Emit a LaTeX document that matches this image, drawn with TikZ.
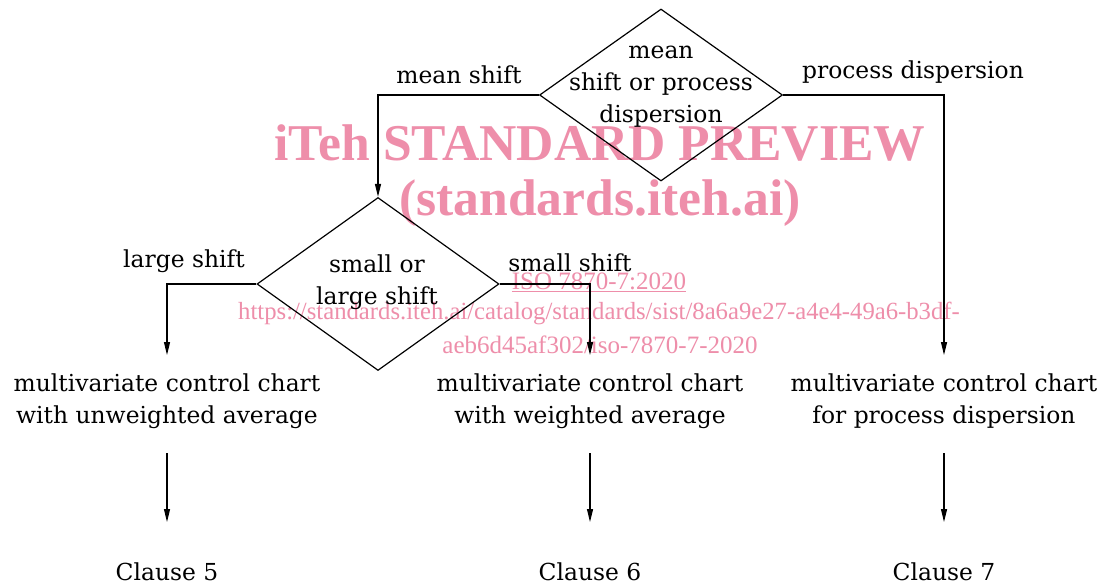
\documentclass[tikz,border=0pt]{standalone}
\usepackage{fontspec}
\setmainfont{DejaVu Serif}
\newfontfamily\wmfont{Liberation Serif}
\usetikzlibrary{shapes.geometric,arrows.meta}
\definecolor{wmpink}{RGB}{238,142,170}
\tikzset{
  flow/.style={line width=1.2pt},
  arr/.style={flow,-{Triangle[length=13pt,width=6pt]}},
  decision/.style={diamond,draw,line width=1.2pt,inner sep=0pt},
  txt/.style={align=center,inner sep=0pt,font=\fontsize{23.4}{32}\selectfont},
  wmbig/.style={text=wmpink,inner sep=0pt,font=\wmfont\bfseries\fontsize{51.6}{60}\selectfont},
  wmsmall/.style={text=wmpink,inner sep=0pt,font=\wmfont\fontsize{25}{32}\selectfont}
}
\begin{document}
\begin{tikzpicture}[x=1pt,y=-1pt]
\useasboundingbox (0,0) rectangle (1103,586);
\fill[white] (0,0) rectangle (1103,586);

% watermark lettering
\node[wmbig] (wm1) at (600,143) {iTeh STANDARD PREVIEW};
\node[wmbig] (wm2) at (600,203) {(standards.iteh.ai)};
\node[wmsmall] (wm3) at (599,282) {\underline{ISO 7870-7:2020}};
\node[wmsmall,font=\wmfont\fontsize{24.7}{32}\selectfont] (wm4) at (599,313) {https://standards.iteh.ai/catalog/standards/sist/8a6a9e27-a4e4-49a6-b3df-};
\node[wmsmall] (wm5) at (600,345) {aeb6d45af302/iso-7870-7-2020};

% decisions
\node[decision,minimum width=243pt,minimum height=172pt] (d1) at (661,95) {};
\node[txt] (d1t) at (661,87) {mean\\shift or process\\dispersion};
\node[decision,minimum width=242pt,minimum height=173pt] (d2) at (378,284) {};
\node[txt] (d2t) at (377,282) {small or\\large shift};

% chart types
\node[txt] (b1) at (167,401) {multivariate control chart\\with unweighted average};
\node[txt] (b2) at (590,401) {multivariate control chart\\with weighted average};
\node[txt] (b3) at (944,401) {multivariate control chart\\for process dispersion};

% clauses
\node[txt] (c5) at (167,572) {Clause 5};
\node[txt] (c6) at (590,572) {Clause 6};
\node[txt] (c7) at (944,572) {Clause 7};

% branch labels
\node[txt] (l1) at (459,75) {mean shift};
\node[txt] (l2) at (913,72) {process dispersion};
\node[txt] (l3) at (184,261) {large shift};
\node[txt] (l4) at (570,263) {small shift};

% connectors
\draw[arr] (d1.west) -| (d2.north);
\draw[arr,shorten >=46pt] (d1.east) -| (b3.center);
\draw[arr,shorten >=46pt] (d2.west) -| (b1.center);
\draw[arr,shorten >=46pt] (d2.east) -| (b2.center);
\draw[arr,shorten <=52pt,shorten >=50pt] (b1.center) -- (c5.center);
\draw[arr,shorten <=52pt,shorten >=50pt] (b2.center) -- (c6.center);
\draw[arr,shorten <=52pt,shorten >=50pt] (b3.center) -- (c7.center);
\end{tikzpicture}
\end{document}
